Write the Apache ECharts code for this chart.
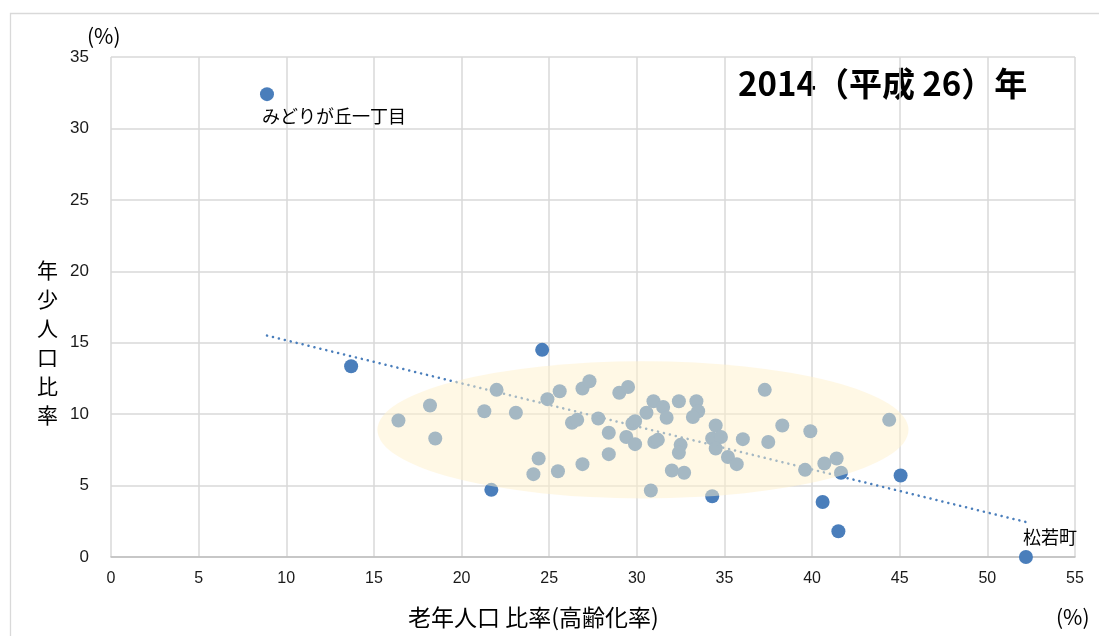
<!DOCTYPE html>
<html>
<head>
<meta charset="utf-8">
<script src="https://cdn.jsdelivr.net/npm/echarts@6/dist/echarts.min.js"></script>
<style>
  html, body { margin: 0; padding: 0; background: #fff; }
  #chart { width: 1099px; height: 636px; }
</style>
</head>
<body>
<div id="chart"></div>
<script>
// 老年人口比率 (x) / 年少人口比率 (y), 2014
const oldAgeRatio = [
    8.9, 13.7, 24.6, 21.7, 34.3, 40.6, 41.5, 45.05, 52.2,
    16.4, 18.2, 18.5, 21.3, 22.0, 23.1, 24.4, 24.1, 24.9, 25.6,
    25.5, 26.9, 27.3, 26.3, 26.6, 27.8, 26.9, 28.4, 28.4, 29.0,
    29.5, 29.4, 29.9, 29.75, 29.9, 30.55, 30.95, 31.5, 31.7, 32.4,
    33.4, 33.5, 33.2, 31.0, 31.2, 32.5, 32.4, 32.0, 32.7, 30.8,
    34.5, 34.3, 34.8, 34.5, 35.2, 35.7, 36.05, 37.3, 38.3, 37.5,
    39.9, 39.6, 40.7, 41.4, 41.65, 44.4
]
const youthRatio = [
    32.4, 13.35, 14.5, 4.7, 4.25, 3.85, 1.8, 5.7, 0.0,
    9.55, 10.6, 8.3, 10.2, 11.7, 10.1, 6.9, 5.8, 11.05, 11.6,
    6.0, 11.8, 12.3, 9.4, 9.6, 9.7, 6.5, 8.7, 7.2, 11.5,
    11.9, 8.4, 7.9, 9.35, 9.5, 10.1, 10.9, 10.5, 9.75, 10.9,
    10.9, 10.2, 9.8, 8.05, 8.2, 7.85, 7.3, 6.05, 5.9, 4.65,
    9.2, 8.3, 8.4, 7.6, 7.0, 6.5, 8.25, 11.7, 9.2, 8.05,
    8.8, 6.1, 6.55, 6.9, 5.9, 9.6
]
// labelled towns (index into the arrays above)
const namedTowns = { 0: 'みどりが丘一丁目', 8: '松若町' }

// linear trend line end points
const trendX = [8.9, 52.2]
const trendY = [15.5, 2.45]

// highlighted cluster: centre x, centre y, half width, half height
const cluster = [30.35, 8.9, 15.15, 4.8]

const blue = '#4a7ebb'
const jp = '"Noto Sans CJK JP", sans-serif'
const num = '"Liberation Sans", "Noto Sans CJK JP", sans-serif'

let points = oldAgeRatio.map((x, i) => {
    let p = { value: [x, youthRatio[i]] }
    if (i === 0) {
        p.label = { show: true, formatter: namedTowns[0], position: [2, 20] }
    } else if (i === 8) {
        p.label = { show: true, formatter: namedTowns[8], position: [4, -22] }
    }
    return p
})

let chart = echarts.init(document.getElementById('chart'), null, { renderer: 'canvas' })

let option = {
    animation: false,
    grid: { left: 111, right: 24, top: 57, bottom: 79 },
    graphic: [
        {
            type: 'rect', left: 8, top: 11, silent: true,
            shape: { width: 1200, height: 800 },
            style: { fill: 'none', stroke: '#d9d9d9', lineWidth: 1.3 }
        },
        {
            type: 'text', left: 738, top: 67,
            style: {
                text: '2014（平成 26）年', fill: '#000',
                font: 'bold 33px "Liberation Sans Narrow", "Noto Sans CJK JP", sans-serif'
            }
        },
        {
            type: 'text', left: 87, top: 26,
            style: { text: '(%)', fill: '#000', font: '21px ' + jp }
        },
        {
            type: 'text', left: 1056, top: 607,
            style: { text: '(%)', fill: '#000', font: '21px ' + jp }
        },
        {
            // y axis title, stacked vertically
            type: 'text', left: 37, top: 256,
            style: {
                text: '年\n少\n人\n口\n比\n率', fill: '#000',
                font: '21px ' + jp, lineHeight: 29
            }
        },
        {
            type: 'text', left: 408, top: 606,
            style: { text: '老年人口 比率(高齢化率)', fill: '#000', font: '23px ' + jp }
        }
    ],
    xAxis: {
        type: 'value', min: 0, max: 55, interval: 5,
        axisLine: { show: true, onZero: false, lineStyle: { color: '#bfbfbf', width: 1.5 } },
        axisTick: { show: false },
        axisLabel: { margin: 14, fontSize: 16, fontFamily: num, color: '#1a1a1a' },
        splitLine: { show: true, lineStyle: { color: '#d9d9d9', width: 1.5 } }
    },
    yAxis: {
        type: 'value', min: 0, max: 35, interval: 5,
        axisLine: { show: false },
        axisTick: { show: false },
        axisLabel: { margin: 22, fontSize: 17, fontFamily: num, color: '#1a1a1a' },
        splitLine: { show: true, lineStyle: { color: '#d9d9d9', width: 1.5 } }
    },
    series: [
        {
            type: 'scatter',
            data: points,
            symbolSize: 14,
            itemStyle: { color: blue, opacity: 1 },
            label: {
                show: false, color: '#000', fontFamily: jp, fontSize: 18,
                align: 'left', verticalAlign: 'top'
            },
            z: 2
        },
        {
            type: 'line',
            data: trendX.map((x, i) => [x, trendY[i]]),
            showSymbol: false,
            lineStyle: { color: blue, width: 2.5, type: [0.1, 6], cap: 'round' },
            z: 3
        },
        {
            type: 'custom',
            silent: true,
            data: [cluster],
            renderItem: (params, api) => {
                let c = api.coord([api.value(0), api.value(1)])
                let s = api.size([api.value(2), api.value(3)])
                return {
                    type: 'circle',
                    x: c[0], y: c[1],
                    scaleY: s[1] / s[0],
                    shape: { cx: 0, cy: 0, r: s[0] },
                    style: { fill: 'rgba(255,242,204,0.5)' }
                }
            },
            z: 4
        }
    ]
}

chart.setOption(option)
</script>
</body>
</html>
